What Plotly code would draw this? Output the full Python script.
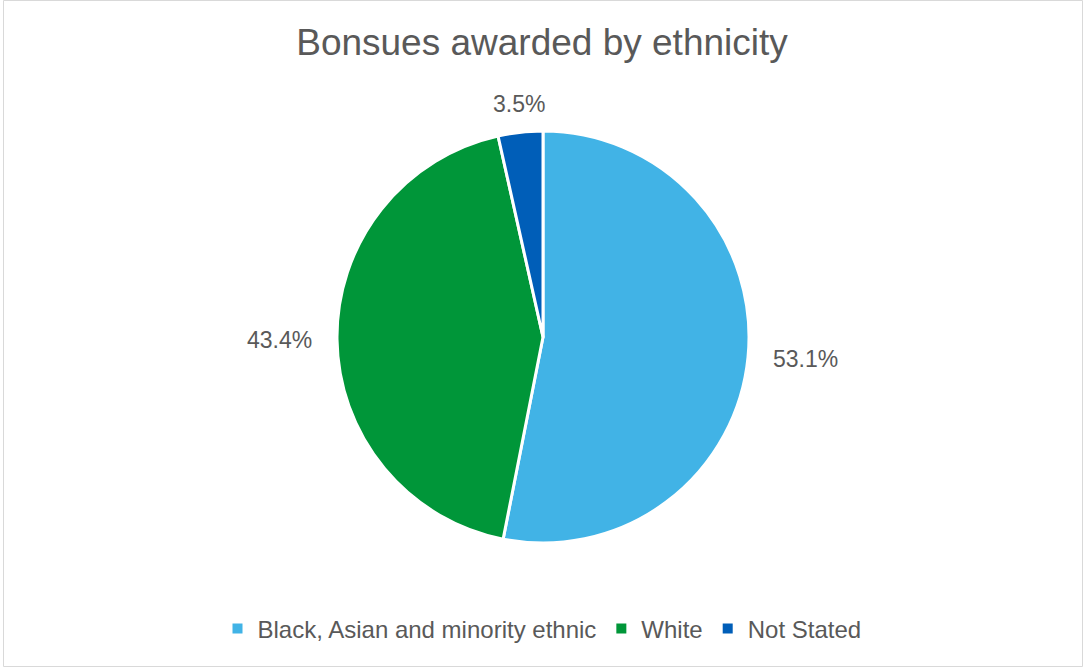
import math
import plotly.graph_objects as go

categories = ["Black, Asian and minority ethnic", "White", "Not Stated"]
values = [53.1, 43.4, 3.5]
colors = ["#41B3E6", "#009639", "#005EB8"]

W, H = 1084, 669
cx, cy, r = 543, 337, 206
label_gap = 23
TXT = "#595959"
FONT = "Liberation Sans, Arial, sans-serif"

fig = go.Figure(go.Pie(
    labels=categories,
    values=values,
    sort=False,
    direction="clockwise",
    rotation=0,
    marker=dict(colors=colors, line=dict(color="white", width=3)),
    textinfo="none",
    domain=dict(x=[(cx - r) / W, (cx + r) / W], y=[1 - (cy + r) / H, 1 - (cy - r) / H]),
    showlegend=True,
    hoverinfo="label+percent",
))

# percentage labels placed outside each slice, along its mid-angle
total = sum(values)
annotations = []
cum = 0.0
for v in values:
    mid = (cum + v / 2) / total * 2 * math.pi
    cum += v
    ux, uy = math.sin(mid), -math.cos(mid)  # screen direction (y down)
    if abs(ux) >= abs(uy):
        d = r + label_gap
        xa = "left" if ux > 0 else "right"
        ya = "middle"
    else:
        d = r + label_gap - 10
        xa = "center"
        ya = "bottom" if uy < 0 else "top"
    px, py = cx + ux * d, cy + uy * d
    annotations.append(dict(
        text=f"{v:.1f}%", x=px / W, y=1 - py / H, xref="paper", yref="paper",
        xanchor=xa, yanchor=ya, showarrow=False,
        font=dict(size=23, color=TXT, family=FONT),
    ))

fig.update_layout(
    width=W, height=H,
    margin=dict(l=0, r=0, t=0, b=0),
    paper_bgcolor="white",
    plot_bgcolor="white",
    font=dict(family=FONT, color=TXT),
    title=dict(text="Bonsues awarded by ethnicity", x=0.5, xanchor="center",
               y=1 - 42 / H, yanchor="middle",
               font=dict(size=37, color=TXT)),
    legend=dict(orientation="h", x=0.5, xanchor="center", y=1 - 629 / H, yanchor="middle",
                font=dict(size=24, color=TXT), itemsizing="constant"),
    annotations=annotations,
    shapes=[dict(type="rect", xref="paper", yref="paper",
                 x0=3.5 / W, x1=1082.5 / W, y0=1 - 666.5 / H, y1=1 - 0.5 / H,
                 line=dict(color="#D9D9D9", width=1), fillcolor="rgba(0,0,0,0)")],
)

fig.write_html("out.html")
